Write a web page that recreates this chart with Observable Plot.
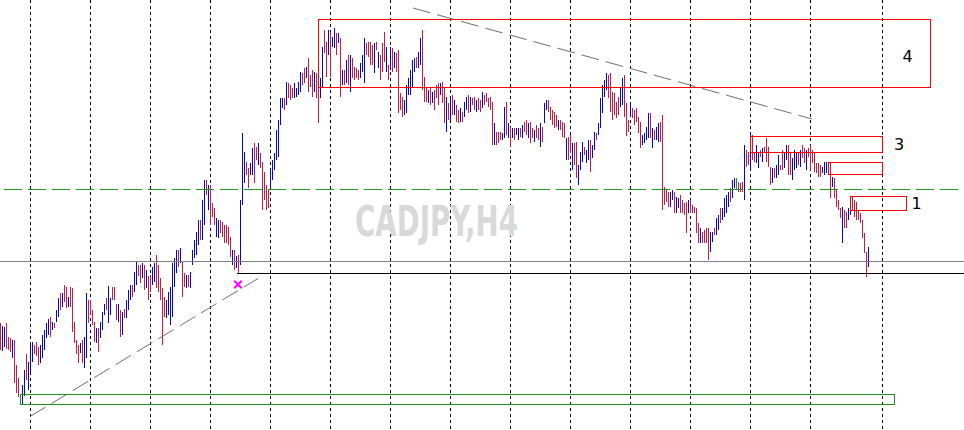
<!DOCTYPE html>
<html><head><meta charset="utf-8">
<script src="https://cdn.jsdelivr.net/npm/d3@7"></script>
<script src="https://cdn.jsdelivr.net/npm/@observablehq/plot@0.6"></script>
<style>html,body{margin:0;padding:0;background:#fff;} svg{display:block;}</style>
</head><body><div id="chart"></div>
<script>
// CADJPY, H4 bars (one per 4-hour period), prices in yen
const high = [
86.77,86.74,86.73,86.77,86.63,86.62,86.60,86.60,86.35,86.22,
86.06,86.15,86.30,86.46,86.38,86.55,86.58,86.55,86.58,86.53,
86.55,86.65,86.70,86.77,86.81,86.83,86.78,86.77,86.90,87.02,
87.07,87.07,87.15,87.13,87.03,87.13,87.12,86.78,86.60,86.55,
86.57,86.60,86.63,87.07,87.00,87.00,86.90,86.78,86.72,86.72,
86.78,86.88,86.96,87.02,87.14,87.02,87.13,87.13,86.96,86.96,
86.90,86.88,86.91,87.00,87.10,87.15,87.15,87.28,87.38,87.35,
87.35,87.37,87.35,87.30,87.24,87.25,87.33,87.37,87.45,87.35,
87.22,87.12,87.03,87.00,87.08,87.13,87.37,87.42,87.50,87.50,
87.52,87.38,87.27,87.25,87.25,87.28,87.50,87.60,87.68,87.80,
87.80,88.00,88.20,88.20,88.15,88.15,87.97,87.92,87.82,87.80,
87.80,87.78,87.75,87.75,87.73,87.63,87.50,87.50,87.44,87.45,
88.00,88.67,88.48,88.38,88.32,88.37,88.52,88.57,88.53,88.57,
88.47,88.38,88.28,88.15,88.10,88.32,88.40,88.47,88.70,88.80,
89.02,89.02,89.02,89.18,89.17,89.15,89.12,89.17,89.12,89.18,
89.28,89.27,89.32,89.33,89.42,89.25,89.30,89.28,89.27,89.80,
89.22,89.53,89.70,89.58,89.70,89.68,89.63,89.72,89.67,89.67,
89.62,89.30,89.30,89.40,89.45,89.45,89.42,89.33,89.32,89.30,
89.37,89.45,89.62,89.57,89.58,89.58,89.55,89.57,89.58,89.48,
89.45,89.57,89.68,89.53,89.35,89.53,89.52,89.48,89.47,89.50,
89.07,89.03,89.00,89.15,89.22,89.30,89.40,89.42,89.43,89.48,
89.62,89.70,89.23,89.13,89.10,89.13,89.08,89.10,89.15,89.17,
89.17,89.18,89.13,89.03,88.97,89.03,89.05,89.00,88.95,88.90,
88.92,88.88,88.98,89.03,89.05,89.03,89.02,89.03,89.00,89.02,
89.00,89.08,89.05,89.07,89.02,89.03,88.98,88.77,88.68,88.68,
88.68,88.67,88.93,88.98,88.77,88.73,88.72,88.72,88.72,88.72,
88.72,88.75,88.78,88.80,88.77,88.78,88.72,88.70,88.75,88.72,
88.77,88.73,88.97,89.00,89.00,88.93,88.90,88.88,88.85,88.80,
88.80,88.78,88.77,88.62,88.63,88.65,88.57,88.57,88.58,88.35,
88.48,88.58,88.53,88.50,88.60,88.60,88.55,88.68,88.67,88.77,
89.02,89.15,89.20,89.27,89.25,89.27,89.08,89.07,88.98,89.03,
89.13,89.22,89.25,88.97,88.80,88.97,88.92,88.90,88.92,88.83,
88.78,88.65,88.67,88.73,88.87,88.87,88.72,88.70,88.73,88.77,
88.78,88.85,88.13,88.10,88.08,88.08,88.10,88.08,88.03,88.02,
88.05,88.00,87.97,87.98,88.00,88.00,87.95,87.93,87.92,87.77,
87.72,87.68,87.70,87.72,87.72,87.68,87.68,87.72,87.82,87.85,
87.92,87.92,88.02,88.05,88.08,88.12,88.20,88.22,88.22,88.18,
88.17,88.18,88.55,88.50,88.48,88.67,88.65,88.48,88.55,88.48,
88.50,88.52,88.53,88.62,88.53,88.33,88.32,88.32,88.35,88.45,
88.35,88.50,88.48,88.55,88.55,88.47,88.42,88.50,88.48,88.48,
88.50,88.55,88.52,88.50,88.52,88.55,88.50,88.48,88.37,88.37,
88.35,88.33,88.38,88.38,88.38,88.38,88.23,88.22,88.10,88.00,
87.92,87.93,87.90,87.88,87.92,88.03,88.03,88.00,87.98,87.90,
87.87,87.80,87.67,87.48,87.53];
const low = [
86.50,86.49,86.53,86.51,86.50,86.48,86.42,86.17,86.07,86.03,
85.95,85.95,86.04,86.20,86.10,86.28,86.38,86.46,86.44,86.35,
86.37,86.42,86.50,86.62,86.65,86.63,86.70,86.72,86.78,86.83,
86.90,86.93,86.98,86.92,86.93,86.93,86.68,86.57,86.46,86.37,
86.47,86.37,86.32,86.42,86.77,86.85,86.75,86.58,86.57,86.48,
86.62,86.70,86.85,86.90,86.77,86.85,87.00,87.00,86.80,86.78,
86.63,86.65,86.82,86.82,86.90,87.00,87.03,87.08,87.15,87.24,
87.17,87.22,87.10,87.12,87.00,87.08,87.15,87.18,87.12,87.08,
87.00,86.55,86.83,86.82,86.85,86.75,86.83,87.13,87.27,87.33,
87.37,87.03,87.13,87.12,87.13,87.12,87.35,87.42,87.45,87.55,
87.60,87.60,87.75,88.05,87.90,87.75,87.83,87.75,87.63,87.62,
87.67,87.63,87.57,87.57,87.55,87.43,87.35,87.30,87.32,87.26,
87.35,87.95,88.17,88.25,88.12,88.25,88.25,88.17,88.40,88.35,
88.32,87.90,88.00,87.90,87.92,88.10,88.20,88.30,88.40,88.43,
88.75,88.92,88.90,88.95,89.02,89.00,89.02,89.02,89.03,89.05,
89.08,89.15,89.17,89.22,89.08,89.13,89.03,89.08,89.02,88.77,
89.02,89.13,89.47,89.23,89.45,89.23,89.53,89.52,89.45,89.57,
89.03,89.15,89.15,89.17,89.15,89.08,89.22,89.20,89.22,89.20,
89.22,89.28,89.17,89.45,89.43,89.35,89.35,89.27,89.50,89.32,
89.20,89.28,89.38,89.28,89.20,89.30,89.28,89.32,89.28,88.87,
88.90,88.83,88.85,88.87,89.05,89.05,89.13,89.28,89.32,89.32,
89.35,89.10,88.98,88.98,88.97,88.95,88.97,88.90,89.02,88.95,
89.05,88.97,88.77,88.68,88.80,88.80,88.85,88.85,88.78,88.77,
88.78,88.78,88.83,88.90,88.87,88.88,88.95,88.90,88.88,88.90,
88.88,88.92,88.95,88.98,88.93,88.90,88.55,88.55,88.55,88.57,
88.60,88.60,88.62,88.65,88.62,88.53,88.62,88.60,88.65,88.60,
88.63,88.62,88.68,88.65,88.62,88.57,88.62,88.58,88.62,88.60,
88.53,88.58,88.77,88.90,88.88,88.80,88.75,88.72,88.73,88.70,
88.70,88.63,88.62,88.40,88.40,88.47,88.30,88.35,88.22,88.15,
88.30,88.38,88.45,88.37,88.40,88.28,88.42,88.50,88.60,88.65,
88.72,88.87,89.03,89.10,89.02,88.88,88.80,88.85,88.82,88.85,
88.93,88.95,88.83,88.64,88.68,88.83,88.82,88.75,88.78,88.67,
88.52,88.55,88.57,88.60,88.62,88.62,88.52,88.60,88.60,88.58,
88.58,87.90,87.95,87.98,87.93,87.93,88.00,87.87,87.87,87.92,
87.87,87.87,87.85,87.67,87.87,87.87,87.87,87.87,87.67,87.57,
87.57,87.57,87.57,87.57,87.40,87.48,87.58,87.65,87.65,87.70,
87.77,87.80,87.83,87.87,87.93,87.98,88.02,88.12,88.10,88.08,
88.08,88.08,88.00,88.33,88.35,88.30,88.40,88.38,88.37,88.32,
88.43,88.38,88.47,88.38,88.33,88.15,88.17,88.22,88.22,88.25,
88.30,88.30,88.32,88.40,88.25,88.25,88.20,88.30,88.32,88.35,
88.33,88.42,88.37,88.30,88.43,88.30,88.37,88.28,88.27,88.23,
88.23,88.27,88.25,88.27,88.25,88.02,88.13,88.02,87.93,87.90,
87.82,87.57,87.72,87.72,87.80,87.85,87.90,87.83,87.80,87.80,
87.77,87.62,87.47,87.23,87.33];
// 1 = bullish bar, -1 = bearish bar, 0 = unchanged
const dir = [
-1,1,1,-1,-1,-1,1,-1,-1,-1, -1,1,1,-1,1,1,1,-1,-1,-1,
1,1,1,1,1,-1,1,-1,1,1, -1,1,-1,-1,1,-1,-1,-1,-1,-1,
1,-1,1,1,-1,-1,-1,-1,1,-1, 1,1,1,-1,1,1,-1,-1,-1,1,
-1,1,-1,1,1,1,-1,1,1,-1, -1,1,-1,1,-1,-1,1,1,-1,-1,
-1,-1,-1,1,1,1,1,1,1,-1, 1,-1,-1,1,-1,1,1,1,1,1,
-1,1,1,-1,1,-1,-1,-1,1,1, -1,-1,-1,-1,-1,-1,1,-1,1,-1,
1,1,1,-1,-1,1,1,-1,-1,1, -1,-1,-1,-1,-1,1,1,1,1,1,
1,1,-1,1,-1,-1,-1,1,1,1, 1,-1,-1,1,-1,-1,-1,1,-1,-1,
1,1,-1,-1,1,-1,1,1,-1,1, -1,1,-1,1,-1,1,-1,-1,-1,-1,
1,1,1,-1,-1,-1,-1,1,-1,1, -1,-1,-1,1,-1,1,-1,1,-1,-1,
-1,-1,1,1,1,1,1,1,-1,1, 1,-1,-1,-1,1,-1,1,-1,-1,-1,
1,-1,-1,1,-1,1,-1,1,-1,-1, 1,-1,1,1,-1,1,-1,-1,1,-1,
-1,1,-1,-1,-1,-1,-1,1,-1,-1, -1,1,1,-1,1,-1,1,-1,1,1,
-1,1,-1,-1,1,-1,-1,1,-1,-1, 1,-1,1,1,-1,-1,-1,-1,-1,1,
-1,-1,-1,1,-1,-1,1,-1,-1,1, 1,1,-1,1,1,-1,1,1,-1,1,
1,1,1,1,-1,-1,-1,-1,-1,-1, 1,1,-1,-1,-1,1,-1,-1,-1,-1,
-1,1,1,1,1,-1,1,-1,1,1, -1,-1,-1,-1,-1,1,1,-1,1,1,
-1,-1,-1,-1,1,-1,-1,-1,-1,-1, 1,-1,-1,-1,-1,1,1,-1,1,1,
-1,1,1,1,1,-1,1,1,0,-1, -1,-1,1,-1,-1,1,-1,-1,1,1,
-1,1,-1,-1,-1,-1,1,-1,1,1, -1,-1,1,1,-1,-1,1,1,1,-1,
1,-1,-1,1,-1,-1,-1,-1,-1,-1, -1,1,1,1,-1,-1,1,-1,-1,-1,
-1,1,-1,-1,1,1,-1,-1,-1,-1, -1,-1,-1,-1,1];

// period separators (bar index where a new week starts)
const separatorBars = [15,45,75,105,135,165,195,225,255,285,315,345,375,405,441];
// horizontal levels
const dashedLevel = [88.11];
const greyLevel = [87.39];
const blackLevel = [87.27];
const blackLevelFrom = 118.5;
// zones (bar index span, price span)
const zoneFrom  = [159, 375, 414, 425, 10];
const zoneTo    = [465, 441, 441, 453, 447];
const zoneLow   = [89.13, 88.48, 88.26, 87.90, 85.96];
const zoneHigh  = [89.81, 88.64, 88.38, 88.04, 86.06];
const zoneKind  = ["resistance","resistance","resistance","resistance","support"];
// zone labels
const labelText = ["4", "3", "1"];
const labelBar  = [453.5, 449.25, 458];
const labelPrice= [89.44, 88.56, 87.97];
// trend lines
const trendFromBar   = [14.75, 206.25];
const trendFromPrice = [85.84, 89.925];
const trendToBar     = [128.75, 405.75];
const trendToPrice   = [87.22, 88.815];
// arrow mark
const markBar = [118.75];
const markPrice = [87.16];
const symbolName = "CADJPY,H4";

const bars = high.map((h, i) => ({i, high: h, low: low[i], dir: dir[i]}));
const upBars = bars.filter(b => b.dir > 0);
const downBars = bars.filter(b => b.dir < 0);
const flatBars = bars.filter(b => b.dir === 0);
const zones = zoneFrom.map((f, k) => ({x1: f, x2: zoneTo[k], y1: zoneLow[k], y2: zoneHigh[k], kind: zoneKind[k]}));
const labels = labelText.map((t, k) => ({t, x: labelBar[k], y: labelPrice[k]}));
const trends = trendFromBar.map((f, k) => ({x1: f, y1: trendFromPrice[k], x2: trendToBar[k], y2: trendToPrice[k]}));
const marksData = markBar.map((b, k) => ({x: b, y: markPrice[k]}));
const watermark = [{t: symbolName, x: 218, y: 87.78}];

const barOpts = (color) => ({x: "i", y1: "low", y2: "high", strokeWidth: 1, stroke: color, shapeRendering: "crispEdges"});

const chart = Plot.plot({
  width: 964, height: 430, margin: 0,
  x: {type: "linear", domain: [0, 482], range: [0, 964], axis: null},
  y: {type: "linear", domain: [85.70, 90.00], range: [430, 0], axis: null},
  style: {background: "#ffffff"},
  marks: [
    Plot.ruleX(separatorBars, {x: d => d, stroke: "#000", strokeWidth: 1, strokeDasharray: "3,3", shapeRendering: "crispEdges"}),
    Plot.text(watermark, {x: "x", y: "y", text: "t", fill: "#d9d9d9", fontSize: 42, fontWeight: "bold",
      fontFamily: "'Liberation Sans Narrow','DejaVu Sans Condensed','Liberation Sans',sans-serif", textAnchor: "middle"}),
    Plot.ruleX(upBars, barOpts("#0000ff")),
    Plot.ruleX(downBars, barOpts("#dc143c")),
    Plot.ruleX(flatBars, barOpts("#1f8f1f")),
    Plot.ruleY(dashedLevel, {y: d => d, stroke: "#1f961f", strokeWidth: 1, strokeDasharray: "18,6", strokeDashoffset: 20, shapeRendering: "crispEdges"}),
    Plot.ruleY(greyLevel, {y: d => d, stroke: "#808088", strokeWidth: 1, shapeRendering: "crispEdges"}),
    Plot.ruleY(blackLevel, {y: d => d, x1: () => blackLevelFrom, x2: () => 482, stroke: "#000", strokeWidth: 1, shapeRendering: "crispEdges"}),
    Plot.link(trends, {x1: "x1", y1: "y1", x2: "x2", y2: "y2", stroke: "#6e6e6e", strokeWidth: 1, strokeDasharray: "18,7"}),
    Plot.rect(zones.filter(z => z.kind !== "support"), {x1: "x1", x2: "x2", y1: "y1", y2: "y2", fill: "none", strokeWidth: 1, shapeRendering: "crispEdges", stroke: "#ff0000"}),
    Plot.rect(zones.filter(z => z.kind === "support"), {x1: "x1", x2: "x2", y1: "y1", y2: "y2", fill: "none", strokeWidth: 1, shapeRendering: "crispEdges", stroke: "#1e8c1e"}),
    Plot.text(labels, {x: "x", y: "y", text: "t", fill: "#000", fontSize: 16, fontFamily: "'DejaVu Sans',sans-serif", textAnchor: "middle"}),
    Plot.dot(marksData, {x: "x", y: "y", symbol: "times", r: 3.5, stroke: "#ff00ff", strokeWidth: 2})
  ]
});
document.getElementById("chart").appendChild(chart);
chart.querySelectorAll("text").forEach(t => {
  if (t.textContent === symbolName) {
    t.setAttribute("textLength", "163");
    t.setAttribute("lengthAdjust", "spacingAndGlyphs");
  }
});
</script>
</body></html>
